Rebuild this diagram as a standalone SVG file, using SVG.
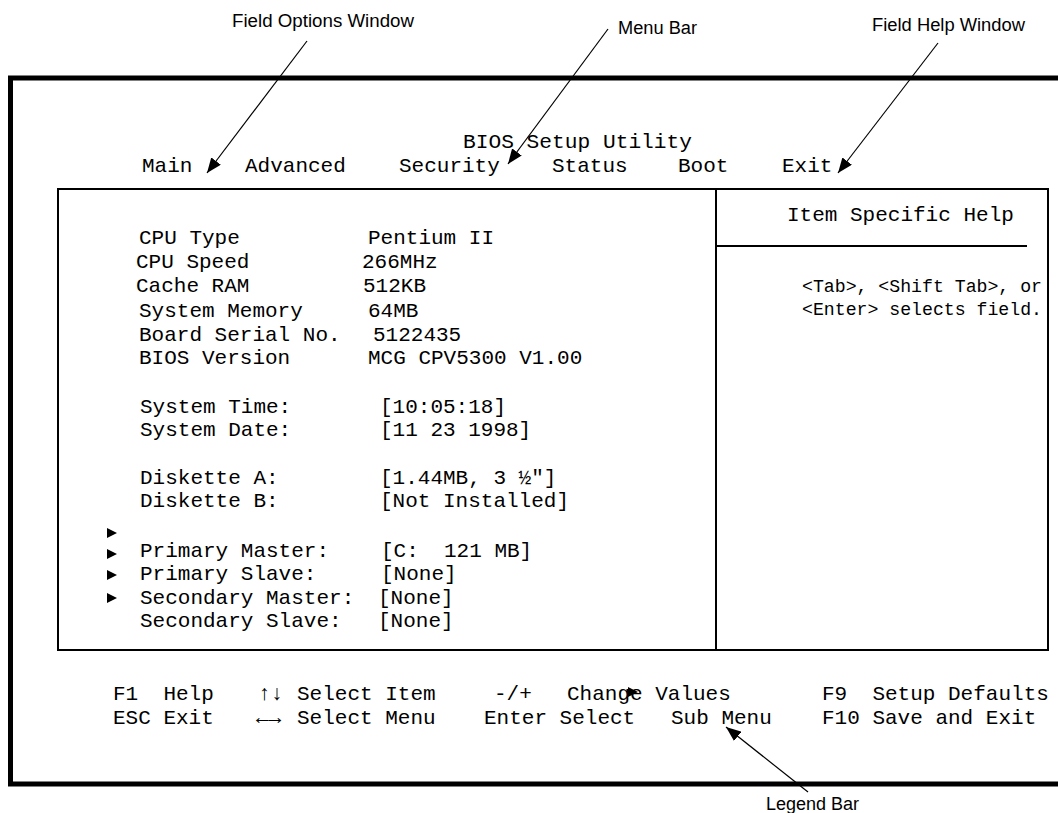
<svg xmlns="http://www.w3.org/2000/svg" width="1058" height="813" viewBox="0 0 1058 813" xml:space="preserve">
<style>
.m{font-family:"Liberation Mono","Courier New",monospace;font-size:21px;fill:#000;white-space:pre}
.h{font-size:19px}
.lab{font-family:"Liberation Sans",Arial,sans-serif;font-size:18px;fill:#000}
.thick{stroke:#000;stroke-width:5;fill:none}
.thin{stroke:#000;stroke-width:2;fill:none}
.conn{stroke:#000;stroke-width:1.2;fill:none}
.tri{fill:#000}
</style>
<defs>
<marker id="ah" markerUnits="userSpaceOnUse" markerWidth="16" markerHeight="12" refX="15" refY="6" orient="auto">
<path d="M0,0 L15,6 L0,12 z" fill="#000"/>
</marker>
</defs>
<rect width="1058" height="813" fill="#fff"/>
<g id="frame">
<line class="thick" x1="8" y1="78" x2="1058" y2="78"/>
<line class="thick" x1="10.5" y1="76" x2="10.5" y2="786"/>
<line class="thick" x1="8" y1="784" x2="1058" y2="784"/>
</g>
<g id="menu-bar">
<text class="m" x="463" y="148" textLength="229" lengthAdjust="spacingAndGlyphs">BIOS Setup Utility</text>
<text class="m" x="142" y="172">Main</text>
<text class="m" x="245" y="172">Advanced</text>
<text class="m" x="399" y="172">Security</text>
<text class="m" x="552" y="172">Status</text>
<text class="m" x="678" y="172">Boot</text>
<text class="m" x="782" y="172">Exit</text>
</g>
<g id="field-options-window">
<rect class="thin" x="58" y="189" width="990" height="461"/>
<line class="thin" x1="716" y1="189" x2="716" y2="650"/>
<text class="m" x="139" y="244">CPU Type</text><text class="m" x="368" y="244">Pentium II</text>
<text class="m" x="136" y="268">CPU Speed</text><text class="m" x="362" y="268">266MHz</text>
<text class="m" x="136" y="292">Cache RAM</text><text class="m" x="363" y="292">512KB</text>
<text class="m" x="139" y="317">System Memory</text><text class="m" x="368" y="317">64MB</text>
<text class="m" x="139" y="341">Board Serial No.</text><text class="m" x="373" y="341">5122435</text>
<text class="m" x="139" y="364">BIOS Version</text><text class="m" x="368" y="364">MCG CPV5300 V1.00</text>
<text class="m" x="140" y="413">System Time:</text><text class="m" x="380" y="413">[10:05:18]</text>
<text class="m" x="140" y="436">System Date:</text><text class="m" x="380" y="436">[11 23 1998]</text>
<text class="m" x="140" y="484">Diskette A:</text><text class="m" x="380" y="484">[1.44MB, 3 ½"]</text>
<text class="m" x="140" y="507">Diskette B:</text><text class="m" x="380" y="507">[Not Installed]</text>
<polygon class="tri" points="107,528 117,533 107,538"/>
<polygon class="tri" points="107,549 117,554 107,559"/>
<text class="m" x="140" y="557">Primary Master:</text><text class="m" x="381" y="557">[C:  121 MB]</text>
<polygon class="tri" points="107,570 117,575 107,580"/>
<text class="m" x="140" y="580">Primary Slave:</text><text class="m" x="381" y="580">[None]</text>
<polygon class="tri" points="107,593 117,598 107,603"/>
<text class="m" x="140" y="604">Secondary Master:</text><text class="m" x="378" y="604">[None]</text>
<text class="m" x="140" y="627">Secondary Slave:</text><text class="m" x="378" y="627">[None]</text>
</g>
<g id="field-help-window">
<text class="m" x="787" y="221">Item Specific Help</text>
<line class="thin" x1="716" y1="246" x2="1027" y2="246"/>
<text class="m h" x="802" y="292" textLength="240" lengthAdjust="spacingAndGlyphs">&lt;Tab&gt;, &lt;Shift Tab&gt;, or</text>
<text class="m h" x="802" y="315" textLength="240" lengthAdjust="spacingAndGlyphs">&lt;Enter&gt; selects field.</text>
</g>
<g id="legend-bar">
<text class="m" x="113" y="700">F1  Help</text>
<text class="m" x="258" y="700" font-size="16">↑↓</text>
<text class="m" x="297" y="700">Select Item</text>
<text class="m" x="494" y="700">-/+</text>
<text class="m" x="567" y="700">Change Values</text>
<text class="m" x="822" y="700">F9  Setup Defaults</text>
<text class="m" x="113" y="724">ESC Exit</text>
<text class="m" x="256" y="724" font-size="14">←→</text>
<text class="m" x="297" y="724">Select Menu</text>
<text class="m" x="484" y="724">Enter Select</text>
<text class="m" x="671" y="724">Sub Menu</text>
<text class="m" x="822" y="724">F10 Save and Exit</text>
<polygon class="tri" points="628,687 638,692 628,697"/>
</g>
<g id="labels">
<text class="lab" x="232" y="27" textLength="182" lengthAdjust="spacingAndGlyphs">Field Options Window</text>
<text class="lab" x="618" y="34" textLength="79" lengthAdjust="spacingAndGlyphs">Menu Bar</text>
<text class="lab" x="872" y="31" textLength="153" lengthAdjust="spacingAndGlyphs">Field Help Window</text>
<text class="lab" x="766" y="810">Legend Bar</text>
</g>
<g id="connectors">
<line class="conn" x1="307" y1="41" x2="207" y2="173" marker-end="url(#ah)"/>
<line class="conn" x1="608" y1="29" x2="508" y2="164" marker-end="url(#ah)"/>
<line class="conn" x1="938" y1="43" x2="838" y2="173" marker-end="url(#ah)"/>
<line class="conn" x1="808" y1="792" x2="726" y2="727" marker-end="url(#ah)"/>
</g>
</svg>
